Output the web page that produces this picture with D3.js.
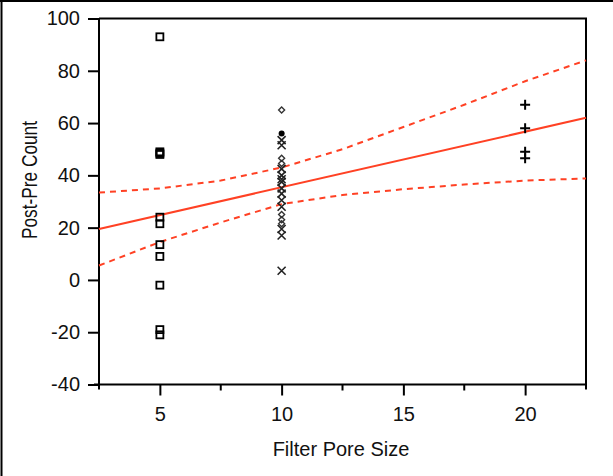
<!DOCTYPE html>
<html>
<head>
<meta charset="utf-8">
<script src="https://cdn.jsdelivr.net/npm/d3@7"></script>
<style>
  html, body { margin: 0; padding: 0; background: #fff; }
  svg { display: block; font-family: "Liberation Sans", Arial, sans-serif; }
</style>
</head>
<body>
<svg id="chart" width="613" height="476"></svg>
<script>
/* ============================================================
   Post-Pre Count vs Filter Pore Size — scatter + fit + bands
   ============================================================ */

// x groups
const poreSizes = [5, 10, 20];

// y values read per group
const size5Counts = [93, 49, 48.5, 48, 24, 21.5, 13.5, 9, -2, -19, -21];
const size10Counts = [65, 56, 53.5, 51.5, 46.5, 44.5, 42.5, 40, 38.5, 37.5, 35, 33, 30.5, 28, 25, 23, 21.5, 19.5, 17, 3.5];
const size10Markers = ['diamond', 'dot', 'x', 'x', 'diamond', 'diamond', 'x', 'x', 'x', 'x',
                       'x', 'x', 'x', 'x', 'diamond', 'diamond', 'diamond', 'x', 'x', 'x'];
const size20Counts = [67, 58, 49, 46.5];

// fitted line + confidence band
const fitX = [2.5, 22.5];
const fitY = [19.5, 62];
const bandX = [2.5, 5, 7.5, 10, 12.5, 15, 17.5, 20, 22.5];
const bandUpper = [33.4, 35, 38, 43, 50, 58.5, 67, 76, 84];
const bandLower = [5.5, 14.5, 22, 29, 32.5, 34.7, 36.5, 38, 38.8];

// axis ticks
const xTicks = [5, 10, 15, 20];
const xMinorTicks = [7.5, 12.5, 17.5];
const yTicks = [-40, -20, 0, 20, 40, 60, 80, 100];

(() => {
  const svg = d3.select('#chart');
  const red = '#ff4124';
  const left = 99, right = 586, top = 18.5, bottom = 384.5;

  const x = d3.scaleLinear().domain([2.5, 22.5]).range([left, right]);
  const y = d3.scaleLinear().domain([-40, 100]).range([bottom, top]);

  // outer image border (top + left only)
  svg.append('line').attr('x1', 0).attr('x2', 613).attr('y1', 1).attr('y2', 1)
    .attr('stroke', '#000').attr('stroke-width', 2);
  svg.append('line').attr('x1', 1.5).attr('x2', 1.5).attr('y1', 0).attr('y2', 476)
    .attr('stroke', '#000').attr('stroke-width', 2);

  // frame top + right
  svg.append('path')
    .attr('d', `M${left},${top}H${right}V${bottom + 5}`)
    .attr('fill', 'none').attr('stroke', '#000').attr('stroke-width', 2);

  // Y axis
  const yAxis = svg.append('g').attr('transform', `translate(${left},0)`)
    .call(d3.axisLeft(y).tickValues(yTicks).tickSize(11).tickPadding(8).tickFormat(d3.format('d')));
  yAxis.select('.domain').attr('d', `M0,${top}V${bottom + 5}`).attr('stroke-width', 2);
  yAxis.selectAll('.tick line').attr('stroke-width', 2);
  yAxis.selectAll('.tick text').attr('font-size', 20).attr('fill', '#111')
    .attr('font-family', '"Liberation Sans", Arial, sans-serif')
    .text(d => d < 0 ? '-' + Math.abs(d) : d);

  // X axis
  const xAxis = svg.append('g').attr('transform', `translate(0,${bottom})`)
    .call(d3.axisBottom(x).tickValues(xTicks).tickSize(11).tickPadding(11).tickFormat(d3.format('d')));
  xAxis.select('.domain').attr('d', `M${left - 5},0H${right}`).attr('stroke-width', 2);
  xAxis.selectAll('.tick line').attr('stroke-width', 2);
  xAxis.selectAll('.tick text').attr('font-size', 20).attr('fill', '#111')
    .attr('font-family', '"Liberation Sans", Arial, sans-serif');
  xAxis.selectAll('.minor').data(xMinorTicks).enter().append('line')
    .attr('x1', d => x(d)).attr('x2', d => x(d)).attr('y1', 0).attr('y2', 6)
    .attr('stroke', '#000').attr('stroke-width', 2);

  // axis titles
  svg.append('text').attr('x', 341).attr('y', 456).attr('text-anchor', 'middle')
    .attr('font-size', 20).attr('fill', '#111').text('Filter Pore Size');
  svg.append('text').attr('transform', 'translate(37,180) rotate(-90)')
    .attr('text-anchor', 'middle').attr('font-size', 22).attr('fill', '#111')
    .attr('textLength', 118).attr('lengthAdjust', 'spacingAndGlyphs')
    .text('Post-Pre Count');

  // fit + bands
  const line = d3.line().x(d => x(d[0])).y(d => y(d[1]));
  svg.append('path').datum(d3.zip(bandX, bandUpper)).attr('d', line)
    .attr('fill', 'none').attr('stroke', red).attr('stroke-width', 2).attr('stroke-dasharray', '6,5');
  svg.append('path').datum(d3.zip(bandX, bandLower)).attr('d', line)
    .attr('fill', 'none').attr('stroke', red).attr('stroke-width', 2).attr('stroke-dasharray', '6,5');
  svg.append('path').datum(d3.zip(fitX, fitY)).attr('d', line)
    .attr('fill', 'none').attr('stroke', red).attr('stroke-width', 2);

  // points
  const pts = svg.append('g');
  size5Counts.forEach(v => {
    pts.append('rect').attr('x', x(poreSizes[0]) - 3.5).attr('y', y(v) - 3.5)
      .attr('width', 7).attr('height', 7)
      .attr('fill', 'none').attr('stroke', '#000').attr('stroke-width', 1.8);
  });

  size10Counts.forEach((v, i) => {
    const cx = x(poreSizes[1]), cy = y(v);
    const m = size10Markers[i];
    if (m === 'diamond') {
      pts.append('path').attr('d', `M${cx},${cy - 3}L${cx + 3},${cy}L${cx},${cy + 3}L${cx - 3},${cy}Z`)
        .attr('fill', 'none').attr('stroke', '#333').attr('stroke-width', 1.4);
    } else if (m === 'dot') {
      pts.append('circle').attr('cx', cx).attr('cy', cy).attr('r', 3).attr('fill', '#000');
    } else {
      pts.append('path').attr('d', `M${cx - 4},${cy - 4}L${cx + 4},${cy + 4}M${cx + 4},${cy - 4}L${cx - 4},${cy + 4}`)
        .attr('stroke', '#222').attr('stroke-width', 1.6);
    }
  });

  size20Counts.forEach(v => {
    const cx = x(poreSizes[2]), cy = y(v);
    pts.append('path').attr('d', `M${cx - 5},${cy}H${cx + 5}M${cx},${cy - 5}V${cy + 5}`)
      .attr('stroke', '#000').attr('stroke-width', 2);
  });
})();
</script>
</body>
</html>
